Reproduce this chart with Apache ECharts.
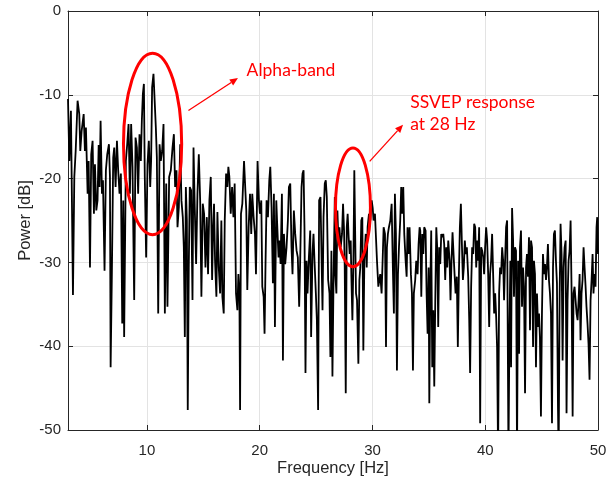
<!DOCTYPE html>
<html><head><meta charset="utf-8">
<script src="https://cdn.jsdelivr.net/npm/echarts@6/dist/echarts.min.js"></script>
<style>html,body{margin:0;padding:0;background:#fff}#c{width:616px;height:485px}</style>
</head><body><div id="c"></div>
<script>
// [frequency (Hz), power (dB)], split by band
const seg3to10 = [[3.00,-10.5],[3.12,-17.9],[3.26,-11.9],[3.44,-33.9],[3.56,-19.8],[3.68,-16.7],[3.85,-10.7],[4.00,-12.3],[4.09,-16.7],[4.21,-14.3],[4.39,-12.3],[4.50,-16.7],[4.59,-13.9],[4.74,-21.8],[4.83,-17.9],[4.95,-30.6],[5.06,-17.1],[5.18,-15.5],[5.30,-24.2],[5.39,-18.3],[5.51,-23.8],[5.62,-22.6],[5.72,-16.0],[5.80,-21.0],[5.89,-13.1],[6.01,-21.8],[6.10,-20.2],[6.24,-31.0],[6.36,-19.0],[6.48,-17.1],[6.63,-15.9],[6.72,-19.8],[6.78,-42.5],[6.89,-31.4],[7.01,-17.5],[7.10,-16.3],[7.22,-21.0],[7.34,-15.5],[7.45,-19.0],[7.57,-21.8],[7.69,-19.4],[7.81,-37.3],[7.90,-22.6],[7.98,-38.9],[8.13,-17.9],[8.25,-15.9],[8.37,-13.5],[8.49,-21.8],[8.60,-13.5],[8.72,-18.6],[8.87,-34.5],[8.99,-15.1],[9.11,-16.3],[9.22,-21.8],[9.34,-14.7],[9.46,-17.9],[9.55,-13.0],[9.64,-9.9],[9.73,-8.7],[9.81,-19.8],[9.93,-29.4],[10.05,-18.3],[10.17,-15.5],[10.29,-21.0],[10.37,-17.9],[10.46,-9.1],[10.58,-7.5]];
const seg10to18 = [[10.79,-13.9],[10.88,-17.5],[11.00,-36.1],[11.12,-15.9],[11.23,-17.9],[11.35,-16.7],[11.47,-13.5],[11.59,-36.1],[11.71,-20.6],[11.82,-35.3],[11.97,-19.8],[12.12,-19.0],[12.27,-16.3],[12.39,-14.7],[12.50,-21.0],[12.62,-19.0],[12.71,-25.8],[12.83,-23.4],[12.95,-15.9],[13.06,-22.6],[13.18,-24.6],[13.27,-28.2],[13.36,-38.9],[13.45,-21.0],[13.54,-25.0],[13.62,-47.6],[13.71,-30.6],[13.80,-21.0],[13.92,-21.4],[14.04,-34.5],[14.13,-16.3],[14.24,-23.4],[14.36,-30.2],[14.48,-21.8],[14.60,-17.1],[14.72,-22.6],[14.83,-34.1],[14.95,-23.0],[15.07,-24.2],[15.19,-30.6],[15.31,-24.6],[15.42,-31.4],[15.54,-22.6],[15.66,-19.8],[15.78,-32.1],[15.87,-25.8],[15.95,-23.0],[16.04,-29.8],[16.16,-34.1],[16.25,-24.0],[16.37,-30.6],[16.49,-33.7],[16.60,-25.0],[16.69,-34.1],[16.81,-36.1],[16.90,-25.0],[17.02,-19.4],[17.13,-21.0],[17.22,-18.6],[17.31,-19.8],[17.43,-24.2],[17.55,-21.0],[17.67,-24.6],[17.78,-20.6],[17.90,-33.7],[18.02,-35.7],[18.11,-31.4],[18.20,-33.7],[18.26,-47.6],[18.34,-24.2],[18.46,-23.0],[18.61,-17.9]];
const seg18to26 = [[18.81,-23.8],[18.90,-33.3],[19.02,-25.8],[19.14,-21.8],[19.25,-26.6],[19.34,-21.8],[19.46,-24.6],[19.58,-26.6],[19.67,-31.4],[19.81,-17.9],[19.93,-22.6],[20.02,-24.2],[20.14,-22.6],[20.23,-32.9],[20.35,-34.1],[20.43,-38.5],[20.52,-29.8],[20.61,-22.6],[20.73,-24.6],[20.85,-20.2],[20.94,-18.6],[21.05,-23.4],[21.17,-32.5],[21.26,-21.8],[21.35,-37.7],[21.47,-22.6],[21.55,-25.4],[21.67,-29.4],[21.76,-27.4],[21.85,-30.2],[21.97,-21.8],[22.06,-41.7],[22.15,-26.6],[22.26,-30.2],[22.38,-28.2],[22.50,-25.0],[22.59,-21.0],[22.71,-20.6],[22.82,-28.2],[22.91,-31.4],[23.03,-23.8],[23.15,-26.6],[23.27,-28.6],[23.38,-29.4],[23.50,-35.3],[23.59,-29.8],[23.71,-21.0],[23.80,-19.4],[23.89,-19.0],[23.97,-25.8],[24.06,-43.2],[24.15,-29.8],[24.24,-33.7],[24.36,-29.4],[24.48,-26.2],[24.56,-38.9],[24.68,-29.0],[24.77,-26.6],[24.86,-29.8],[24.98,-33.7],[25.07,-36.9],[25.18,-47.6],[25.27,-22.6],[25.39,-22.2],[25.48,-29.0],[25.57,-35.7],[25.66,-24.6],[25.77,-20.6],[25.86,-20.2],[25.95,-22.2],[26.07,-32.1],[26.19,-33.7],[26.27,-41.3],[26.36,-28.6],[26.45,-43.6],[26.54,-32.9],[26.66,-22.2]];
const seg26to34 = [[26.71,-31.4],[26.80,-33.7],[26.89,-23.8],[26.98,-27.4],[27.07,-25.8],[27.18,-28.2],[27.30,-26.6],[27.39,-23.0],[27.48,-26.2],[27.54,-30.6],[27.63,-45.6],[27.72,-25.8],[27.80,-24.2],[27.89,-27.0],[27.98,-29.0],[28.07,-27.4],[28.13,-31.7],[28.22,-36.9],[28.31,-29.8],[28.39,-19.0],[28.45,-25.0],[28.54,-33.7],[28.63,-34.5],[28.75,-42.1],[28.84,-32.1],[28.92,-30.6],[29.01,-25.0],[29.10,-24.6],[29.19,-40.5],[29.28,-29.8],[29.40,-26.6],[29.49,-30.6],[29.57,-25.8],[29.69,-24.2],[29.81,-25.0],[29.93,-22.6],[30.02,-23.5],[30.10,-25.0],[30.22,-24.2],[30.31,-27.0],[30.40,-29.8],[30.52,-32.9],[30.61,-32.1],[30.69,-31.4],[30.81,-33.7],[30.90,-29.8],[30.99,-25.8],[31.11,-26.6],[31.20,-40.1],[31.28,-28.2],[31.37,-26.6],[31.46,-25.8],[31.58,-25.0],[31.70,-23.0],[31.82,-31.4],[31.90,-36.1],[31.99,-21.8],[32.08,-26.6],[32.17,-42.9],[32.26,-31.4],[32.35,-28.2],[32.46,-25.0],[32.55,-21.0],[32.64,-24.2],[32.73,-21.0],[32.82,-26.6],[32.94,-29.8],[33.03,-31.7],[33.11,-25.8],[33.20,-29.0],[33.29,-25.8],[33.41,-31.4],[33.50,-33.7],[33.59,-42.9],[33.67,-33.7],[33.79,-32.1],[33.88,-29.8],[34.00,-31.4],[34.09,-27.8],[34.18,-25.8]];
const seg34to42 = [[34.24,-26.2],[34.33,-34.1],[34.42,-26.6],[34.51,-29.0],[34.59,-25.8],[34.71,-26.2],[34.80,-33.7],[34.89,-38.5],[34.98,-30.6],[35.04,-46.8],[35.12,-33.7],[35.21,-26.2],[35.30,-42.5],[35.39,-35.7],[35.48,-44.8],[35.57,-34.5],[35.66,-25.8],[35.74,-28.2],[35.83,-37.7],[35.92,-28.2],[36.01,-30.2],[36.10,-26.6],[36.19,-27.0],[36.28,-26.6],[36.36,-27.8],[36.45,-32.1],[36.54,-28.2],[36.63,-30.6],[36.72,-27.4],[36.84,-29.8],[36.92,-34.5],[37.01,-29.8],[37.10,-26.4],[37.19,-29.0],[37.28,-31.4],[37.37,-33.7],[37.48,-31.7],[37.57,-40.1],[37.66,-31.7],[37.75,-25.8],[37.84,-23.0],[37.93,-27.8],[38.02,-32.1],[38.10,-30.6],[38.19,-27.4],[38.28,-29.0],[38.37,-28.2],[38.49,-31.7],[38.58,-36.9],[38.66,-43.2],[38.75,-32.9],[38.84,-28.2],[38.93,-29.0],[39.02,-25.4],[39.11,-25.8],[39.20,-30.6],[39.28,-27.4],[39.37,-29.8],[39.46,-25.8],[39.55,-49.2],[39.64,-28.2],[39.73,-28.6],[39.82,-29.4],[39.90,-31.4],[39.99,-28.2],[40.08,-25.8],[40.17,-27.4],[40.26,-31.4],[40.35,-37.7],[40.43,-31.4],[40.52,-29.8],[40.61,-26.6],[40.70,-31.4],[40.79,-36.1],[40.88,-33.7],[40.97,-36.5],[41.05,-40.1],[41.14,-53.0],[41.23,-33.7],[41.32,-30.6],[41.41,-31.4],[41.50,-28.2],[41.59,-29.8],[41.67,-34.5],[41.76,-29.8],[41.85,-25.8],[41.94,-25.0],[42.06,-53.0],[42.15,-37.7]];
const seg42to50 = [[42.23,-29.8],[42.29,-42.5],[42.38,-23.5],[42.47,-27.4],[42.55,-34.1],[42.64,-28.2],[42.73,-28.6],[42.82,-53.0],[42.91,-29.8],[43.00,-40.9],[43.08,-28.2],[43.17,-26.2],[43.26,-35.3],[43.35,-30.6],[43.44,-32.9],[43.53,-45.6],[43.62,-30.6],[43.70,-29.0],[43.79,-31.7],[43.88,-27.0],[43.97,-38.1],[44.06,-27.4],[44.15,-28.2],[44.24,-40.1],[44.32,-29.8],[44.41,-31.4],[44.50,-42.5],[44.59,-33.7],[44.68,-37.7],[44.77,-36.1],[44.85,-38.9],[44.94,-48.4],[45.03,-36.1],[45.12,-29.0],[45.21,-31.4],[45.30,-30.2],[45.39,-32.1],[45.47,-30.6],[45.56,-27.8],[45.65,-32.1],[45.74,-33.7],[45.83,-36.1],[45.92,-49.2],[46.01,-30.6],[46.09,-26.6],[46.18,-26.2],[46.27,-29.8],[46.36,-32.5],[46.45,-47.2],[46.51,-53.0],[46.60,-33.7],[46.68,-25.4],[46.77,-29.0],[46.86,-41.7],[46.95,-30.6],[47.04,-28.2],[47.13,-27.4],[47.21,-48.0],[47.30,-34.5],[47.39,-29.8],[47.48,-28.6],[47.57,-25.0],[47.66,-33.7],[47.75,-48.4],[47.83,-33.7],[47.92,-32.9],[48.01,-34.5],[48.10,-36.1],[48.19,-36.9],[48.28,-34.5],[48.37,-31.4],[48.45,-39.3],[48.54,-33.7],[48.63,-32.1],[48.72,-28.2],[48.81,-30.6],[48.90,-32.9],[48.98,-35.3],[49.07,-37.3],[49.16,-39.7],[49.25,-44.0],[49.34,-34.5],[49.43,-32.1],[49.52,-29.0],[49.60,-33.7],[49.69,-31.4],[49.78,-32.9],[49.87,-25.8],[49.93,-24.6],[50.00,-29.0]];

const xTicks = [10, 20, 30, 40, 50];
const yTicks = [-50, -40, -30, -20, -10, 0];

// annotations in data units (Hz, dB)
const ellipses = [{cx: 10.5, cy: -15.86, rx: 2.58, ry: 10.83}, {cx: 28.27, cy: -23.43, rx: 1.55, ry: 7.08}];
const arrows = [{from: [13.68, -11.87], to: [18.07, -8.01]}, {from: [29.75, -17.94], to: [32.71, -13.57]}];
const notes = [{at: [18.84, -7.14], text: 'Alpha-band'}, {at: [33.35, -10.95], text: 'SSVEP response\nat 28 Hz'}];

const spectrum = [].concat(seg3to10, seg10to18, seg18to26, seg26to34, seg34to42, seg42to50);

const AX = '#262626';
const FONT = '"Liberation Sans", Arial, sans-serif';
const chart = echarts.init(document.getElementById('c'), null, {renderer: 'canvas'});
const tickStyle = {show: true, inside: true, length: 5, lineStyle: {color: AX, width: 1}};
chart.setOption({
  animation: false,
  backgroundColor: '#fff',
  grid: {left: 68, right: 18, top: 11, bottom: 55, containLabel: false},
  xAxis: [{
    type: 'value', min: 3, max: 50, position: 'bottom',
    axisLine: {show: true, onZero: false, lineStyle: {color: AX, width: 1}},
    axisTick: tickStyle,
    axisLabel: {color: AX, fontSize: 15, fontFamily: FONT, margin: 13,
      formatter: v => xTicks.indexOf(v) >= 0 ? String(v) : ''},
    splitLine: {show: true, lineStyle: {color: '#e3e3e3', width: 1}},
    name: 'Frequency [Hz]', nameLocation: 'middle', nameGap: 30, nameMoveOverlap: false,
    nameTextStyle: {color: AX, fontSize: 16.5, fontFamily: FONT}
  }, {
    type: 'value', min: 3, max: 50, position: 'top',
    axisLine: {show: true, onZero: false, lineStyle: {color: AX, width: 1}},
    axisTick: tickStyle, axisLabel: {show: false}, splitLine: {show: false}
  }],
  yAxis: [{
    type: 'value', min: -50, max: 0, interval: 10, position: 'left',
    axisLine: {show: true, onZero: false, lineStyle: {color: AX, width: 1}},
    axisTick: tickStyle,
    axisLabel: {color: AX, fontSize: 15, fontFamily: FONT, margin: 7,
      formatter: v => yTicks.indexOf(v) >= 0 ? String(v) : ''},
    splitLine: {show: true, lineStyle: {color: '#e3e3e3', width: 1}},
    name: 'Power [dB]', nameLocation: 'middle', nameGap: 34, nameMoveOverlap: false,
    nameTextStyle: {color: AX, fontSize: 16.5, fontFamily: FONT}
  }, {
    type: 'value', min: -50, max: 0, interval: 10, position: 'right',
    axisLine: {show: true, onZero: false, lineStyle: {color: AX, width: 1}},
    axisTick: tickStyle, axisLabel: {show: false}, splitLine: {show: false}
  }],
  series: [{
    type: 'line', xAxisIndex: 0, yAxisIndex: 0, data: spectrum,
    showSymbol: false, symbol: 'none', clip: true,
    lineStyle: {color: '#000', width: 1.8}
  }]
});

function px(p) { return chart.convertToPixel({gridIndex: 0}, p); }
const RED = '#ff0000';
const g = [];
ellipses.forEach(e => {
  const c = px([e.cx, e.cy]);
  const r = px([e.cx + e.rx, e.cy + e.ry]);
  g.push({type: 'ellipse', shape: {cx: c[0], cy: c[1], rx: Math.abs(r[0] - c[0]), ry: Math.abs(r[1] - c[1])},
    style: {fill: null, stroke: RED, lineWidth: 3}, z: 100});
});
arrows.forEach(a => {
  const p1 = px(a.from), p2 = px(a.to);
  const dx = p2[0] - p1[0], dy = p2[1] - p1[1];
  const L = Math.hypot(dx, dy), ux = dx / L, uy = dy / L;
  const hl = 8, hw = 3.5;
  const bx = p2[0] - ux * hl, by = p2[1] - uy * hl;
  g.push({type: 'line', shape: {x1: p1[0], y1: p1[1], x2: bx, y2: by}, style: {stroke: RED, lineWidth: 1.3}, z: 100});
  g.push({type: 'polygon', shape: {points: [[p2[0], p2[1]], [bx - uy * hw, by + ux * hw], [bx + uy * hw, by - ux * hw]]},
    style: {fill: RED}, z: 100});
});
notes.forEach(n => {
  const p = px(n.at);
  const lines = n.text.split('\n');
  lines.forEach((t, i) => {
    g.push({type: 'text', x: p[0], y: p[1] + i * 22,
      style: {text: t, fill: RED, font: '17.5px Lato, "Open Sans", sans-serif', textAlign: 'left', textVerticalAlign: 'middle'}, z: 100});
  });
});
chart.setOption({graphic: g});
</script>
</body></html>
